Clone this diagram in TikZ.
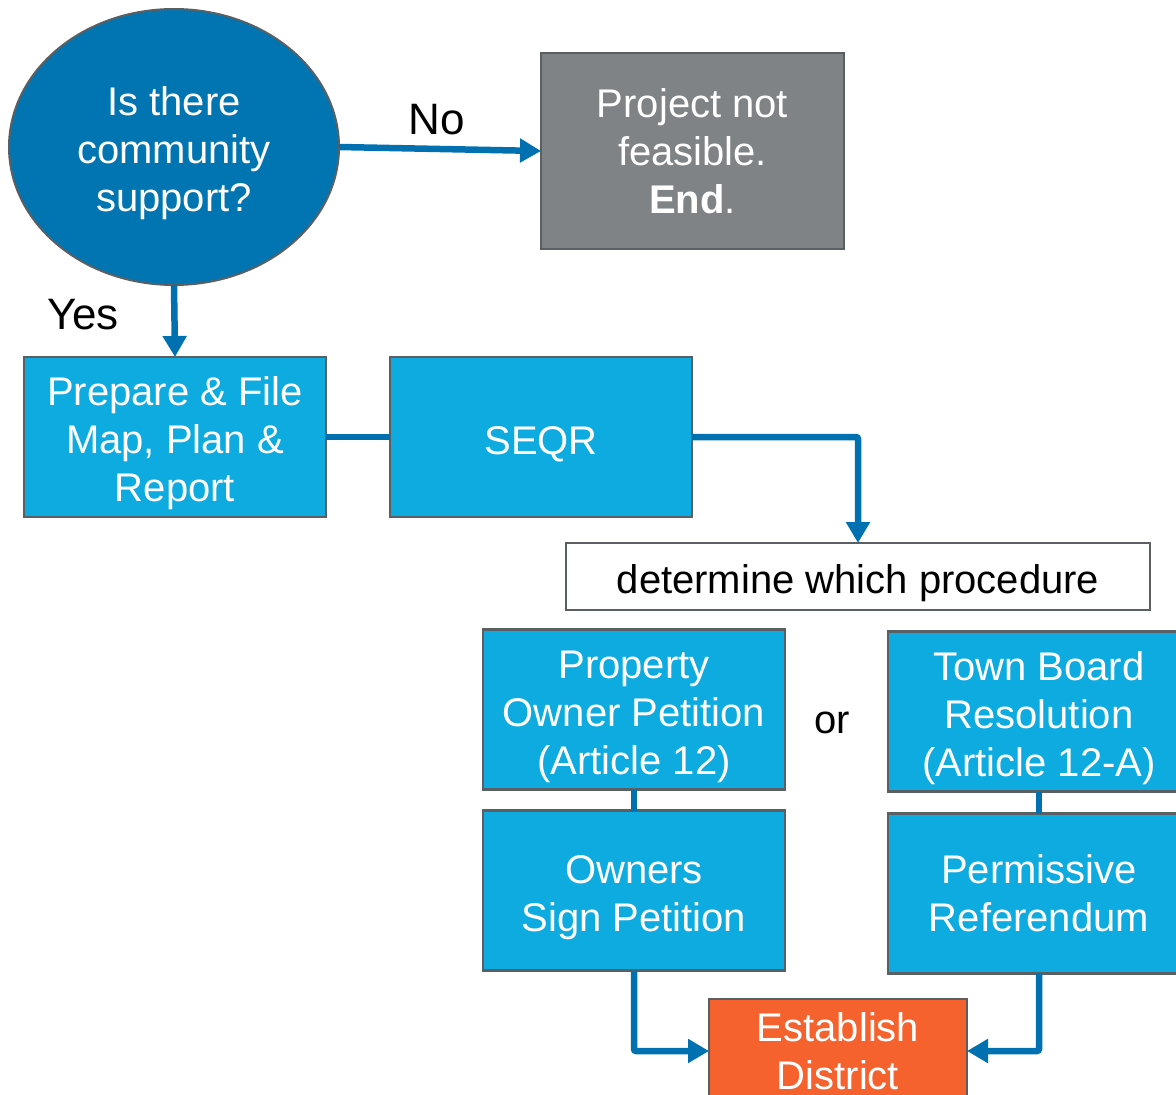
\documentclass[tikz,border=0pt]{standalone}
\usepackage{fontspec}
\setmainfont{Liberation Sans}
\usepackage{xcolor}
\usetikzlibrary{arrows.meta,positioning,shapes.geometric}
\definecolor{DeepBlue}{HTML}{0175B1}
\definecolor{SkyBlue}{HTML}{0DABE0}
\definecolor{LinkBlue}{HTML}{0071B0}
\definecolor{StopGrey}{HTML}{7F8386}
\definecolor{EdgeGrey}{HTML}{5A5F63}
\definecolor{DoneOrange}{HTML}{F6622D}
\newcommand{\lowstrut}{\rule{0pt}{42pt}}
\tikzset{
  question/.style={ellipse, draw=EdgeGrey, fill=DeepBlue, line width=2pt, text=white, align=center, minimum width=330pt, minimum height=276pt, outer sep=0pt},
  bluebox/.style={draw=EdgeGrey, fill=SkyBlue, line width=2.5pt, text=white, align=center, minimum width=302pt, minimum height=160pt, inner sep=4pt, outer sep=0pt},
  greybox/.style={draw=EdgeGrey, fill=StopGrey, line width=2.5pt, text=white, align=center, minimum width=303pt, minimum height=196pt, outer sep=0pt},
  plainbox/.style={draw=EdgeGrey, fill=white, line width=2.5pt, align=center, minimum width=584pt, minimum height=67pt, outer sep=0pt},
  orangebox/.style={draw=EdgeGrey, fill=DoneOrange, line width=2.5pt, text=white, align=center, minimum width=258pt, minimum height=104pt, outer sep=0pt},
  arrow/.style={-{Triangle[length=21pt,width=23pt]}, line width=6.5pt, draw=LinkBlue, rounded corners=2pt},
  link/.style={line width=6.5pt, draw=LinkBlue}
}
\begin{document}
\begin{tikzpicture}[x=1pt, y=-1pt, font=\fontsize{40}{48}\selectfont]
    \useasboundingbox (0,0) rectangle (1176,1095);
    \node[question] (support) at (174,147) {\lowstrut Is there\\community\\support?};
    \node[greybox] (stop) at (692.5,151) {Project not\\feasible.\\\textbf{End}.};
    \node[bluebox] (prepare) at (175,437) {\lowstrut Prepare \& File\\Map, Plan \&\\Report};
    \node[bluebox, right=64pt of prepare] (seqr) {\lowstrut SEQR};
    \node[plainbox] (procedure) at (858,576.5) {\lowstrut determine which procedure};
    \node[bluebox] (petition) at (634,709.5) {\lowstrut Property\\Owner Petition\\(Article 12)};
    \node[bluebox, below=21pt of petition] (sign) {\lowstrut Owners\\Sign Petition};
    \node[bluebox] (resolution) at (1039,711.5) {\lowstrut Town Board\\Resolution\\(Article 12-A)};
    \node[bluebox, below=22pt of resolution] (referendum) {Permissive\\Referendum};
    \node[orangebox] (district) at (838,1051) {Establish\\District};
    \node (or) at (832,723) {or};
    \node[font=\fontsize{44}{50}\selectfont] (no) at (437,120) {No};
    \node[font=\fontsize{44}{50}\selectfont] (yes) at (83,315) {Yes};

    \draw[arrow] (support.east) -- (stop.west);
    \draw[arrow] (support.south) -- (prepare.north);
    \draw[link] (prepare.east) -- (seqr.west);
    \draw[arrow] (seqr.east) -| (procedure.north);
    \draw[link] (petition.south) -- (sign.north);
    \draw[link] (resolution.south) -- (referendum.north);
    \draw[arrow] (sign.south) |- (district.west);
    \draw[arrow] (referendum.south) |- (district.east);
  \end{tikzpicture}
\end{document}
